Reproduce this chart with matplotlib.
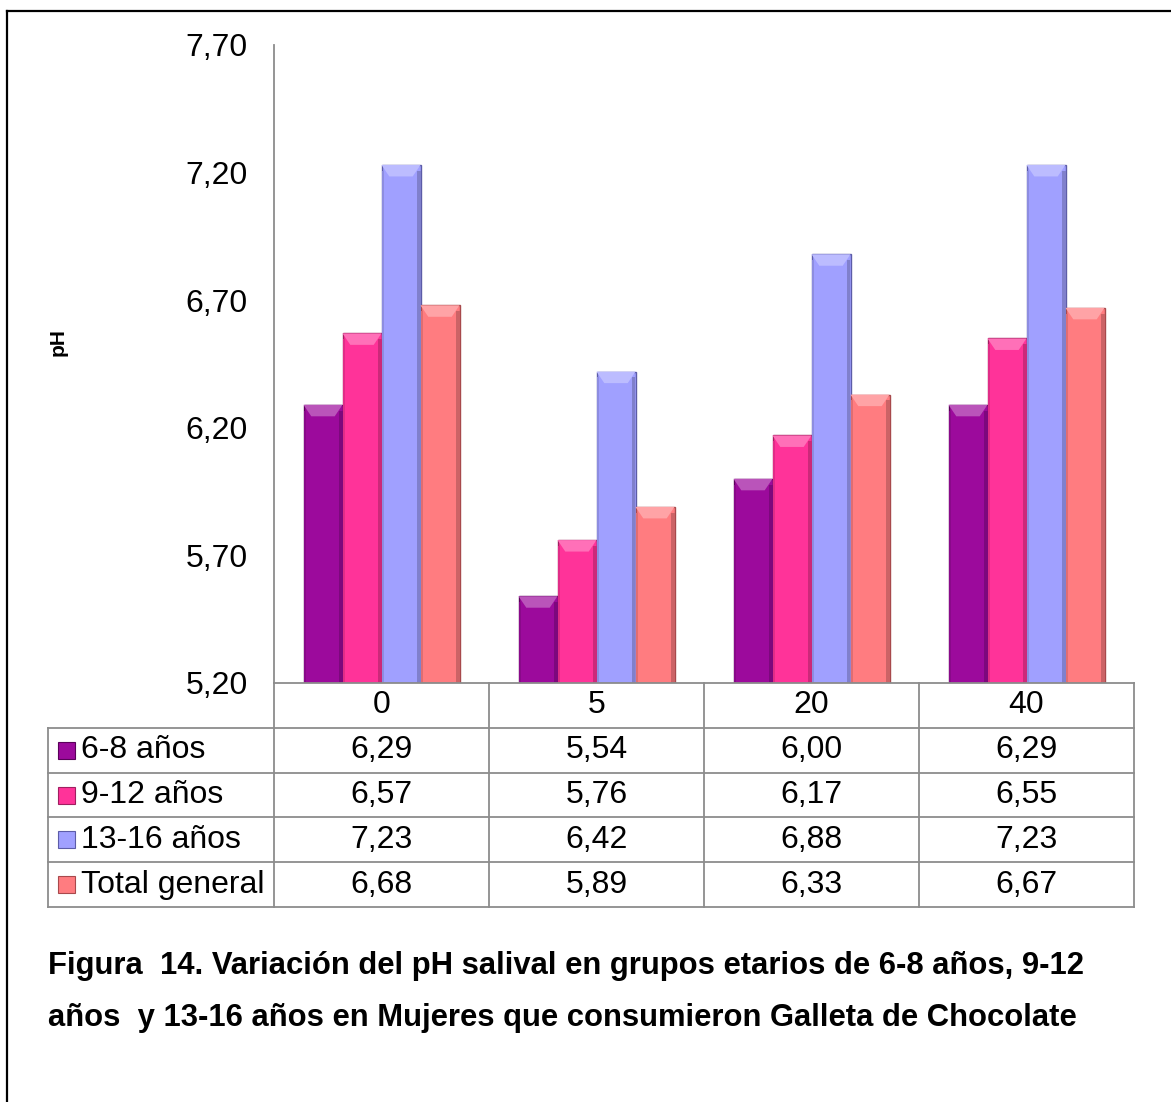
import matplotlib
matplotlib.use('Agg')
import matplotlib.pyplot as plt
from matplotlib.lines import Line2D
from matplotlib.patches import Rectangle, Polygon
from matplotlib.colors import to_rgb
import numpy as np

plt.rcParams['font.family'] = ['Liberation Sans', 'DejaVu Sans']

# datos del gráfico
categories = ['0', '5', '20', '40']
series_names = ['6-8 años', '9-12 años', '13-16 años', 'Total general']
ph_6_8 = [6.29, 5.54, 6.00, 6.29]
ph_9_12 = [6.57, 5.76, 6.17, 6.55]
ph_13_16 = [7.23, 6.42, 6.88, 7.23]
ph_total = [6.68, 5.89, 6.33, 6.67]
y_ticks = [5.20, 5.70, 6.20, 6.70, 7.20, 7.70]

colors = ['#9C0A9C', '#FF3399', '#A0A0FF', '#FF7C80']
edge_colors = ['#5A005A', '#A01F60', '#5C5CA8', '#A8494C']
grid_col = '#8C8C8C'

W, H = 1171, 1102
fig = plt.figure(figsize=(W / 100, H / 100), dpi=100)


def fx(px):
    return px / W


def fy(py):
    return 1 - py / H


def fmt(v):
    return f'{v:.2f}'.replace('.', ',')


def mix(c, other, t):
    a = np.array(to_rgb(c))
    b = np.array(to_rgb(other))
    return tuple(a * (1 - t) + b * t)


series = [ph_6_8, ph_9_12, ph_13_16, ph_total]

# grafico de barras
ax = fig.add_axes([fx(274), fy(683), fx(1134) - fx(274), fy(45) - fy(683)])
x = np.arange(len(categories))
bw = 39 / 215
for i, (vals, c, ec) in enumerate(zip(series, colors, edge_colors)):
    bars = ax.bar(x + (i - 1.5) * bw, np.array(vals) - 5.2, bottom=5.2, width=bw,
                  color=c, edgecolor=ec, linewidth=1.0, zorder=3)
    # efecto biselado sencillo
    for b in bars:
        x0, w, top = b.get_x(), b.get_width(), b.get_y() + b.get_height()
        dx = w * 0.2
        dy = 0.045
        ax.add_patch(Polygon([(x0, top), (x0 + w, top), (x0 + w - dx, top - dy),
                              (x0 + dx, top - dy)], closed=True,
                             facecolor=mix(c, 'white', 0.3), edgecolor='none', zorder=4))
        ax.add_patch(Rectangle((x0 + w - w * 0.08, 5.2), w * 0.08, top - 5.2 - dy * 0.5,
                               facecolor=mix(c, 'black', 0.2), edgecolor='none', zorder=4))
        ax.add_patch(Rectangle((x0, 5.2), w * 0.06, top - 5.2 - dy * 0.5,
                               facecolor=mix(c, 'black', 0.12), edgecolor='none', zorder=4))

ax.set_xlim(-0.5, 3.5)
ax.set_ylim(5.2, 7.7)
ax.set_yticks(y_ticks)
ax.set_yticklabels([fmt(v) for v in y_ticks])
ax.tick_params(axis='y', length=0, pad=19, labelsize=23)
ax.set_xticks([])
for s in ['top', 'right']:
    ax.spines[s].set_visible(False)
ax.spines['left'].set_color(grid_col)
ax.spines['left'].set_linewidth(1.3)
ax.spines['bottom'].set_visible(False)

fig.text(fx(58), fy(342), 'pH', rotation=90, fontsize=15, fontweight='bold',
         ha='center', va='center')

# tabla de datos
tax = fig.add_axes([fx(48), fy(907), fx(1134) - fx(48), fy(683) - fy(907)])
left = -0.5 - (274 - 48) / 215
tax.set_xlim(left, 3.5)
tax.set_ylim(5, 0)
tax.axis('off')
kw = dict(color=grid_col, lw=1.3, solid_capstyle='projecting', clip_on=False)
tax.plot([-0.5, 3.5], [0, 0], **kw)
for r in range(1, 6):
    tax.plot([left, 3.5], [r, r], **kw)
for c in np.arange(-0.5, 4.0, 1.0):
    tax.plot([c, c], [0, 5], **kw)
tax.plot([left, left], [1, 5], **kw)

for j, cat in enumerate(categories):
    tax.text(j, 0.5, cat, ha='center', va='center', fontsize=23)

mw = 17 / 215
mh = 17 / 44.8
for i, (name, vals) in enumerate(zip(series_names, series)):
    row = i + 1.5
    tax.add_patch(Rectangle((left + 10 / 215, row - mh / 2), mw, mh,
                            facecolor=colors[i], edgecolor=edge_colors[i],
                            lw=0.8, clip_on=False))
    tax.text(left + 33 / 215, row, name, ha='left', va='center', fontsize=23)
    for j, v in enumerate(vals):
        tax.text(j, row, fmt(v), ha='center', va='center', fontsize=23)

# leyenda de la figura
cap1 = 'Figura  14. Variación del pH salival en grupos etarios de 6-8 años, 9-12'
cap2 = 'años  y 13-16 años en Mujeres que consumieron Galleta de Chocolate'
fig.text(fx(48), fy(966), cap1, fontsize=22.3, fontweight='bold', va='center')
fig.text(fx(48), fy(1018), cap2, fontsize=22.3, fontweight='bold', va='center')

# marco
fig.add_artist(Line2D([fx(7), fx(7)], [fy(11), 0], color='black', lw=1.6))
fig.add_artist(Line2D([fx(7), 1], [fy(11), fy(11)], color='black', lw=1.6))

fig.savefig('out.png', dpi=100)
